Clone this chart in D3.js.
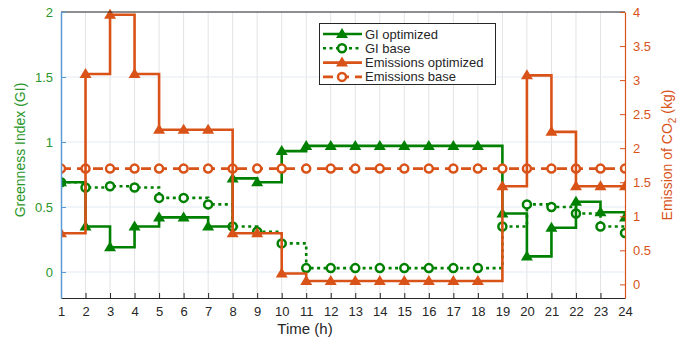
<!DOCTYPE html>
<html>
<head>
<meta charset="utf-8">
<script src="https://cdn.jsdelivr.net/npm/d3@7"></script>
<style>
    body { margin: 0; background: #fff; }
    text { font-family: "Liberation Sans", Arial, sans-serif; }
</style>
</head>
<body>
<div id="chart"></div>
<script>
var hours = d3.range(1, 25)

var giOptimized = [0.69, 0.35, 0.19, 0.35, 0.42, 0.42, 0.35, 0.72, 0.69, 0.93, 0.97, 0.97,
    0.97, 0.97, 0.97, 0.97, 0.97, 0.97, 0.45, 0.12, 0.34, 0.54, 0.46, 0.42]
var giBase = [0.69, 0.65, 0.66, 0.65, 0.57, 0.57, 0.52, 0.35, 0.31, 0.22, 0.03, 0.03,
    0.03, 0.03, 0.03, 0.03, 0.03, 0.03, 0.35, 0.52, 0.50, 0.45, 0.35, 0.30]
var emOptimized = [0.75, 3.09, 3.96, 3.09, 2.27, 2.27, 2.27, 0.75, 0.75, 0.16, 0.05, 0.05,
    0.05, 0.05, 0.05, 0.05, 0.05, 0.05, 1.44, 3.07, 2.24, 1.44, 1.44, 1.44]
var emBase = [1.7, 1.7, 1.7, 1.7, 1.7, 1.7, 1.7, 1.7, 1.7, 1.7, 1.7, 1.7,
    1.7, 1.7, 1.7, 1.7, 1.7, 1.7, 1.7, 1.7, 1.7, 1.7, 1.7, 1.7]

var giTicks = [0, 0.5, 1, 1.5, 2]
var emTicks = [0, 0.5, 1, 1.5, 2, 2.5, 3, 3.5, 4]

var _width = 692
var _height = 341
var _left = 61, _right = 625, _top = 12, _bottom = 298

var green = '#008000'
var greenText = '#2a962a'
var orange = '#D95319'
var blueAxis = '#5b9bd5'
var dark = '#262626'

var x = d3.scaleLinear().domain([1, 24]).range([_left, _right])
var yL = d3.scaleLinear().domain([-0.2, 2]).range([_bottom, _top])
var yR = d3.scaleLinear().domain([-0.2, 4]).range([_bottom, _top])

var svg = d3.select('#chart')
    .append('svg')
    .attr('width', _width)
    .attr('height', _height)

svg.append('clipPath')
    .attr('id', 'plot-clip')
    .append('rect')
    .attr('x', _left).attr('y', _top - 8)
    .attr('width', _right - _left).attr('height', _bottom - _top + 8)

// grid
var grid = svg.append('g').attr('class', 'grid')
grid.selectAll('line.v')
    .data(hours.slice(1, -1))
    .enter()
    .append('line')
    .attr('x1', d => x(d)).attr('x2', d => x(d))
    .attr('y1', _top).attr('y2', _bottom)
    .attr('stroke', '#e3e3e3')
    .attr('stroke-width', 1)
grid.selectAll('line.h')
    .data(giTicks)
    .enter()
    .append('line')
    .attr('x1', _left).attr('x2', _right)
    .attr('y1', d => yL(d)).attr('y2', d => yL(d))
    .attr('stroke', '#e2ebf5')
    .attr('stroke-width', 1)

var plot = svg.append('g').attr('clip-path', 'url(#plot-clip)')

function series(values, scale) {
    return values.map((v, i) => ({ h: hours[i], v: v, y: scale(v) }))
}

function drawStairs(data, color, dash, marker) {
    var line = d3.line()
        .x(d => x(d.h))
        .y(d => d.y)
        .curve(d3.curveStepAfter)

    var g = plot.append('g')
    g.append('path')
        .datum(data)
        .attr('d', line)
        .attr('fill', 'none')
        .attr('stroke', color)
        .attr('stroke-width', 2.6)
        .attr('stroke-dasharray', dash)

    drawMarkers(g, data.map(d => [x(d.h), d.y]), color, marker)
}

function drawMarkers(g, points, color, marker) {
    if (marker === 'tri') {
        g.selectAll('path.m')
            .data(points)
            .enter()
            .append('path')
            .attr('class', 'm')
            .attr('d', d => 'M' + d[0] + ',' + (d[1] - 6) + 'L' + (d[0] + 6) + ',' + (d[1] + 4) +
                'L' + (d[0] - 6) + ',' + (d[1] + 4) + 'Z')
            .attr('fill', color)
    } else {
        g.selectAll('circle.m')
            .data(points)
            .enter()
            .append('circle')
            .attr('class', 'm')
            .attr('cx', d => d[0])
            .attr('cy', d => d[1])
            .attr('r', 4)
            .attr('fill', '#fff')
            .attr('stroke', color)
            .attr('stroke-width', 2.5)
    }
}

drawStairs(series(giBase, yL), green, '3,3.5', 'circle')
drawStairs(series(giOptimized, yL), green, null, 'tri')
drawStairs(series(emBase, yR), orange, '10,6', 'circle')
drawStairs(series(emOptimized, yR), orange, null, 'tri')

// axes frame
svg.append('line')
    .attr('x1', _left).attr('x2', _right)
    .attr('y1', _top).attr('y2', _top)
    .attr('stroke', dark)

var fmt = d => String(d)

var xAxis = svg.append('g')
    .attr('transform', 'translate(0,' + _bottom + ')')
    .call(d3.axisBottom(x).tickValues(hours).tickSizeInner(-5).tickSizeOuter(0).tickPadding(9))
xAxis.select('.domain').attr('stroke', dark)
xAxis.selectAll('.tick line').attr('stroke', dark)
xAxis.selectAll('text').attr('font-size', 13).attr('fill', dark)

var yAxisL = svg.append('g')
    .attr('transform', 'translate(' + _left + ',0)')
    .call(d3.axisLeft(yL).tickValues(giTicks).tickFormat(fmt).tickSizeInner(-5).tickSizeOuter(0).tickPadding(8))
yAxisL.select('.domain').attr('stroke', blueAxis).attr('stroke-width', 1.5)
yAxisL.selectAll('.tick line').attr('stroke', blueAxis)
yAxisL.selectAll('text').attr('font-size', 13).attr('fill', greenText)

var yAxisR = svg.append('g')
    .attr('transform', 'translate(' + _right + ',0)')
    .call(d3.axisRight(yR).tickValues(emTicks).tickFormat(fmt).tickSizeInner(-5).tickSizeOuter(0).tickPadding(8))
yAxisR.select('.domain').attr('stroke', orange).attr('stroke-width', 1.2)
yAxisR.selectAll('.tick line').attr('stroke', orange)
yAxisR.selectAll('text').attr('font-size', 13).attr('fill', orange)

// axis labels
svg.append('text')
    .attr('x', 305).attr('y', 334)
    .attr('text-anchor', 'middle')
    .attr('font-size', 15)
    .attr('fill', dark)
    .text('Time (h)')

svg.append('text')
    .attr('transform', 'translate(25,150) rotate(-90)')
    .attr('text-anchor', 'middle')
    .attr('font-size', 14)
    .attr('fill', greenText)
    .text('Greenness Index (GI)')

var rl = svg.append('text')
    .attr('transform', 'translate(672,155) rotate(-90)')
    .attr('text-anchor', 'middle')
    .attr('font-size', 14)
    .attr('fill', orange)
rl.append('tspan').text('Emission of CO')
rl.append('tspan').attr('font-size', 10).attr('dy', 4).text('2')
rl.append('tspan').attr('dy', -4).text(' (kg)')

// legend
var legendItems = [
    { name: 'GI optimized', color: green, dash: null, marker: 'tri' },
    { name: 'GI base', color: green, dash: '3,3.5', marker: 'circle' },
    { name: 'Emissions optimized', color: orange, dash: null, marker: 'tri' },
    { name: 'Emissions base', color: orange, dash: '10,6', marker: 'circle' }
]

var legend = svg.append('g').attr('class', 'legend')
legend.append('rect')
    .attr('x', 319.5).attr('y', 23.5)
    .attr('width', 176).attr('height', 61)
    .attr('fill', '#fff')
    .attr('stroke', dark)
    .attr('stroke-width', 1)

legendItems.forEach((d, i) => {
    var ly = 34 + i * 14.3
    var g = legend.append('g')
    g.append('line')
        .attr('x1', 323).attr('x2', 362)
        .attr('y1', ly).attr('y2', ly)
        .attr('stroke', d.color)
        .attr('stroke-width', 2.6)
        .attr('stroke-dasharray', d.dash)
    drawMarkers(g, [[342, ly]], d.color, d.marker)
    g.append('text')
        .attr('x', 365).attr('y', ly + 4.5)
        .attr('font-size', 13)
        .attr('fill', dark)
        .text(d.name)
})
</script>
</body>
</html>
